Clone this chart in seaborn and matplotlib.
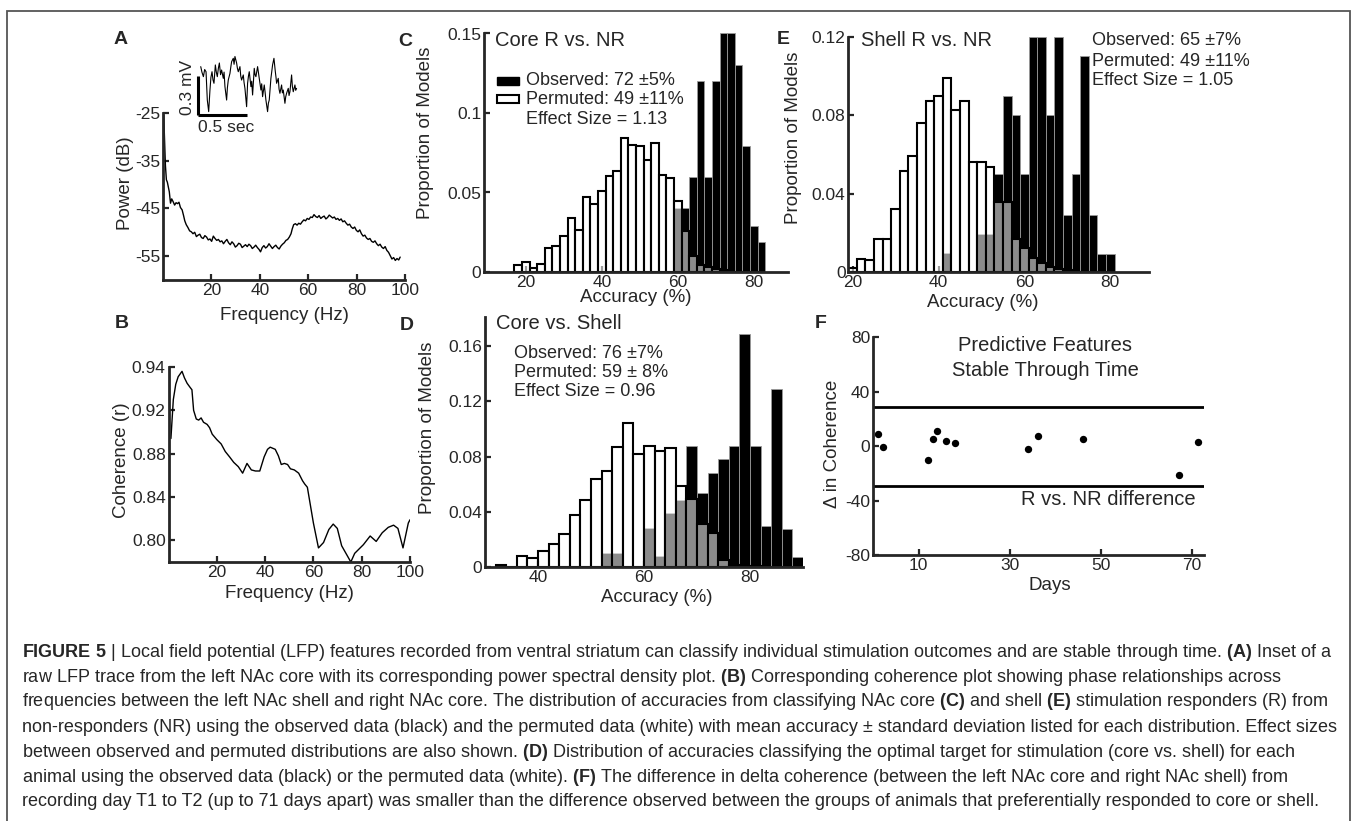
import matplotlib
matplotlib.use('Agg')
import matplotlib.pyplot as plt
from matplotlib.patches import Rectangle
from matplotlib import font_manager
import seaborn as sns

W, H = 1358, 821

# ---------------- data ----------------
# A: power spectral density
psd_freq = [0.3, 0.6, 1.0, 1.4, 1.8, 2.2, 2.6, 3.1, 3.6, 4.2, 4.8, 5.4, 6.0, 6.6, 7.2, 7.9,
            8.5, 9.0, 9.6, 10.3, 11.0, 11.7, 12.4, 13.1, 13.8, 14.5, 15.2, 15.9, 16.6, 17.3,
            18.0, 18.7, 19.4, 20.1, 20.8, 21.5, 22.2, 22.9, 23.6, 24.3, 25.0, 25.7, 26.4, 27.1,
            27.8, 28.5, 29.2, 29.9, 30.6, 31.3, 32.0, 32.7, 33.4, 34.1, 34.8, 35.5, 36.2, 36.9,
            37.6, 38.3, 39.0, 39.7, 40.3, 41.0, 41.7, 42.4, 43.1, 43.8, 44.5, 45.2, 45.9, 46.6,
            47.3, 48.0, 48.7, 49.4, 50.1, 50.8, 51.5, 52.2, 52.9, 53.4, 54.0, 54.7, 55.4, 56.1,
            56.8, 57.5, 58.2, 58.9, 59.6, 60.3, 61.0, 61.7, 62.4, 63.1, 63.8, 64.5, 65.2, 65.9,
            66.6, 67.3, 68.0, 68.7, 69.4, 70.1, 70.8, 71.5, 72.2, 72.9, 73.6, 74.3, 75.0, 75.7,
            76.4, 77.1, 77.8, 78.5, 79.2, 79.9, 80.6, 81.3, 82.0, 82.7, 83.4, 84.1, 84.8, 85.5,
            86.2, 86.9, 87.6, 88.3, 89.0, 89.7, 90.4, 91.1, 91.8, 92.5, 93.2, 93.9, 94.6, 95.3,
            96.0, 96.7, 97.4, 98.0]
psd_db = [-25.5, -30.0, -36.0, -39.0, -39.5, -40.5, -41.5, -43.9, -43.0, -43.6, -44.3, -43.8,
          -44.0, -43.7, -44.8, -45.3, -46.5, -47.6, -48.4, -49.0, -49.7, -49.9, -50.3, -50.0,
          -50.9, -50.6, -50.4, -51.1, -51.3, -50.7, -51.0, -51.6, -51.4, -51.9, -50.8, -51.3,
          -51.7, -51.5, -52.0, -51.8, -52.4, -51.9, -51.5, -52.2, -52.6, -52.0, -52.4, -53.1,
          -52.8, -52.3, -52.5, -53.2, -52.9, -52.6, -53.0, -52.5, -52.8, -53.4, -53.1, -52.7,
          -53.2, -53.6, -54.1, -53.2, -52.8, -53.3, -53.0, -52.4, -52.9, -53.4, -53.0, -52.7,
          -53.2, -53.5, -52.9, -52.5, -52.2, -51.7, -51.5, -51.0, -50.3, -49.3, -48.4, -48.2,
          -48.5, -48.1, -48.3, -47.8, -47.4, -47.6, -47.1, -47.3, -46.8, -46.9, -46.3, -46.7,
          -46.9, -46.5, -47.1, -46.8, -46.6, -47.2, -46.9, -46.4, -46.7, -47.0, -46.8, -47.3,
          -47.1, -47.5, -47.2, -47.8, -47.6, -48.1, -48.5, -48.3, -48.9, -49.2, -48.9, -49.6,
          -49.9, -49.5, -50.3, -50.8, -50.6, -51.2, -51.5, -51.3, -51.9, -52.1, -51.8, -52.4,
          -52.8, -52.5, -53.1, -53.4, -53.0, -53.8, -54.2, -54.9, -55.6, -55.3, -55.9, -55.5,
          -55.8, -55.2]

# A inset: raw LFP trace (sec, mV)
lfp_t = [0.028, 0.040, 0.055, 0.068, 0.082, 0.095, 0.109, 0.122, 0.132, 0.143, 0.153, 0.163,
         0.177, 0.187, 0.197, 0.208, 0.218, 0.230, 0.241, 0.258, 0.266, 0.275, 0.292, 0.300,
         0.309, 0.326, 0.335, 0.343, 0.360, 0.368, 0.377, 0.394, 0.402, 0.411, 0.428, 0.436,
         0.445, 0.462, 0.470, 0.479, 0.496, 0.506, 0.515, 0.523, 0.540, 0.548, 0.557, 0.574,
         0.582, 0.591, 0.608, 0.616, 0.625, 0.642, 0.650, 0.659, 0.676, 0.684, 0.693, 0.710,
         0.718, 0.727, 0.744, 0.752, 0.761, 0.775, 0.789, 0.796, 0.802, 0.819, 0.827, 0.836,
         0.853, 0.861, 0.870, 0.887, 0.895, 0.904, 0.921, 0.929, 0.938, 0.955, 0.963, 0.972,
         0.989, 0.997, 1.006]
lfp_mv = [0.372, 0.330, 0.295, 0.350, 0.333, 0.115, 0.026, 0.192, 0.290, 0.333, 0.270, 0.244,
          0.385, 0.330, 0.295, 0.360, 0.400, 0.310, 0.346, 0.282, 0.330, 0.218, 0.115, 0.210,
          0.269, 0.320, 0.370, 0.410, 0.436, 0.390, 0.450, 0.400, 0.360, 0.333, 0.372, 0.300,
          0.269, 0.308, 0.250, 0.205, 0.064, 0.244, 0.300, 0.333, 0.218, 0.260, 0.154, 0.359,
          0.310, 0.295, 0.372, 0.330, 0.282, 0.192, 0.240, 0.141, 0.231, 0.180, 0.115, 0.026,
          0.090, 0.115, 0.282, 0.330, 0.385, 0.436, 0.333, 0.290, 0.244, 0.282, 0.200, 0.167,
          0.231, 0.170, 0.192, 0.090, 0.140, 0.167, 0.205, 0.150, 0.179, 0.308, 0.220, 0.179,
          0.231, 0.190, 0.205]
scalebar_mv = 0.3
scalebar_s = 0.5

# B: coherence
coh_freq = [1.0, 2.0, 3.0, 4.0, 5.6, 6.6, 7.7, 9.0, 9.7, 10.4, 11.5, 12.5, 13.5, 14.5, 16.0,
            17.0, 18.1, 20.0, 21.8, 23.5, 25.3, 27.0, 28.9, 30.7, 32.5, 34.3, 36.0, 37.8, 39.6,
            41.0, 42.1, 44.2, 45.5, 46.7, 48.0, 49.3, 50.5, 52.1, 53.9, 55.5, 56.4, 57.5, 60.0,
            62.1, 64.2, 66.4, 68.2, 69.9, 71.7, 75.5, 77.1, 80.7, 83.5, 86.0, 88.5, 91.0, 93.2,
            95.0, 97.1, 99.3, 100.0]
coh_r = [0.894, 0.930, 0.944, 0.951, 0.956, 0.950, 0.945, 0.941, 0.939, 0.920, 0.912, 0.911,
         0.913, 0.909, 0.907, 0.904, 0.898, 0.893, 0.889, 0.882, 0.877, 0.872, 0.868, 0.862,
         0.871, 0.865, 0.864, 0.864, 0.877, 0.884, 0.886, 0.884, 0.878, 0.870, 0.871, 0.870,
         0.866, 0.865, 0.862, 0.855, 0.852, 0.849, 0.816, 0.793, 0.798, 0.810, 0.815, 0.811,
         0.795, 0.780, 0.788, 0.796, 0.804, 0.799, 0.807, 0.812, 0.814, 0.811, 0.793, 0.816,
         0.819]
coh_ticks = [0.80, 0.84, 0.88, 0.92, 0.96]
coh_ticklabels = ['0.80', '0.84', '0.88', '0.92', '0.94']

# C: core R vs NR (bin centres, proportion of models)
c_centers = [18, 20, 22, 24, 26, 28, 30, 32, 34, 36, 38, 40, 42, 44, 46, 48, 50, 52, 54, 56,
             58, 60, 62, 64, 66, 68, 70, 72, 74, 76, 78, 80, 82]
c_permuted = [0.0042, 0.0063, 0.0025, 0.0050, 0.0151, 0.0162, 0.0224, 0.0342, 0.0266, 0.0472,
              0.0428, 0.0512, 0.0606, 0.0634, 0.0843, 0.0797, 0.0793, 0.0707, 0.0812, 0.0610,
              0.0592, 0.0445, 0.0256, 0.0102, 0.0043, 0.0031, 0.0019, 0.0010, 0, 0, 0, 0, 0]
c_observed = [0, 0, 0, 0, 0, 0, 0, 0, 0, 0, 0, 0, 0, 0, 0, 0, 0, 0, 0, 0, 0,
              0.040, 0.040, 0.060, 0.120, 0.060, 0.120, 0.150, 0.150, 0.130, 0.079, 0.029, 0.019]

# D: core vs shell
d_centers = [33, 35, 37, 39, 41, 43, 45, 47, 49, 51, 53, 55, 57, 59, 61, 63, 65, 67, 69, 71,
             73, 75, 77, 79, 81, 83, 85, 87, 89]
d_permuted = [0.0017, 0, 0.0084, 0.0065, 0.0118, 0.0166, 0.0238, 0.0378, 0.0486, 0.0635,
              0.0695, 0.0871, 0.1044, 0.0816, 0.0875, 0.0839, 0.0865, 0.0590, 0.0492, 0.0315,
              0.0246, 0.0055, 0.0014, 0.0010, 0.0008, 0, 0, 0, 0]
d_observed = [0, 0, 0, 0, 0, 0, 0, 0, 0, 0, 0.0101, 0.0101, 0, 0, 0.0286, 0.0085, 0.0390,
              0.0490, 0.0875, 0.0539, 0.0684, 0.0780, 0.0875, 0.1688, 0.0875, 0.0300, 0.1286,
              0.0274, 0.0074]

# E: shell R vs NR
e_centers = [20, 22, 24, 26, 28, 30, 32, 34, 36, 38, 40, 42, 44, 46, 48, 50, 52, 54, 56, 58,
             60, 62, 64, 66, 68, 70, 72, 74, 76, 78, 80]
e_permuted = [0.0020, 0.0068, 0.0063, 0.0170, 0.0170, 0.0322, 0.0513, 0.0592, 0.0762, 0.0874,
              0.0900, 0.0988, 0.0826, 0.0874, 0.0560, 0.0560, 0.0533, 0.0355, 0.0355, 0.0170,
              0.0122, 0.0070, 0.0045, 0.0025, 0.0015, 0.0010, 0, 0, 0, 0, 0]
e_observed = [0, 0, 0, 0, 0, 0, 0, 0, 0, 0, 0, 0.0097, 0, 0, 0, 0.0195, 0.0195, 0.050, 0.090,
              0.080, 0.050, 0.120, 0.120, 0.080, 0.120, 0.029, 0.050, 0.110, 0.029, 0.0093,
              0.0093]

# F: delta coherence through time
f_days = [1.0, 2.1, 12.0, 13.1, 14.0, 16.0, 18.1, 34.0, 36.2, 46.1, 67.3, 71.5]
f_delta = [8.7, -0.5, -10.3, 5.0, 11.5, 4.2, 2.3, -1.9, 7.3, 5.3, -20.8, 3.2]
f_bounds = [29, -29]

caption_lines = [
    r"$\mathbf{FIGURE\ 5}$ | Local field potential (LFP) features recorded from ventral striatum can classify individual stimulation outcomes and are stable through time. $\mathbf{(A)}$ Inset of a",
    r"raw LFP trace from the left NAc core with its corresponding power spectral density plot. $\mathbf{(B)}$ Corresponding coherence plot showing phase relationships across",
    r"frequencies between the left NAc shell and right NAc core. The distribution of accuracies from classifying NAc core $\mathbf{(C)}$ and shell $\mathbf{(E)}$ stimulation responders (R) from",
    r"non-responders (NR) using the observed data (black) and the permuted data (white) with mean accuracy ± standard deviation listed for each distribution. Effect sizes",
    r"between observed and permuted distributions are also shown. $\mathbf{(D)}$ Distribution of accuracies classifying the optimal target for stimulation (core vs. shell) for each",
    r"animal using the observed data (black) or the permuted data (white). $\mathbf{(F)}$ The difference in delta coherence (between the left NAc core and right NAc shell) from",
    r"recording day T1 to T2 (up to 71 days apart) was smaller than the difference observed between the groups of animals that preferentially responded to core or shell.",
]

# ---------------- style ----------------
sns.set_style('ticks')
plt.rcParams['font.family'] = ['Liberation Sans', 'DejaVu Sans']
plt.rcParams['mathtext.fontset'] = 'custom'
plt.rcParams['mathtext.rm'] = 'Liberation Sans'
plt.rcParams['mathtext.bf'] = 'Liberation Sans:bold'
plt.rcParams['axes.unicode_minus'] = False
plt.rcParams['axes.linewidth'] = 2.0
plt.rcParams['xtick.direction'] = 'in'
plt.rcParams['ytick.direction'] = 'in'
plt.rcParams['xtick.major.width'] = 1.6
plt.rcParams['ytick.major.width'] = 1.6
plt.rcParams['xtick.major.size'] = 4
plt.rcParams['ytick.major.size'] = 4
plt.rcParams['xtick.labelsize'] = 12.5
plt.rcParams['ytick.labelsize'] = 12.5
plt.rcParams['axes.labelsize'] = 13.5

narrow = any(f.name == 'Liberation Sans Narrow' for f in font_manager.fontManager.ttflist)
cap_family = ['Liberation Sans Narrow', 'Liberation Sans'] if narrow else ['Liberation Sans']


def fx(x):
    return x / W


def fy(y):
    return 1 - y / H


def add_ax(left, right, top, bottom):
    return fig.add_axes([fx(left), fy(bottom), (right - left) / W, (bottom - top) / H])


def place_labels(ax, xl, yl):
    ax.xaxis.set_label_coords(fx(xl[0]), fy(xl[1]), transform=fig.transFigure)
    ax.xaxis.label.set_va('center')
    ax.yaxis.set_label_coords(fx(yl[0]), fy(yl[1]), transform=fig.transFigure)
    ax.yaxis.label.set_va('center')


def hist_panel(ax, centers, observed, permuted):
    edges = [c - 1 for c in centers] + [centers[-1] + 1]
    sns.histplot(x=centers, weights=observed, bins=edges, stat='count', ax=ax,
                 facecolor='black', edgecolor='#9a9a9a', linewidth=0.6)
    sns.histplot(x=centers, weights=permuted, bins=edges, stat='count', ax=ax,
                 facecolor=(1, 1, 1, 0.55), edgecolor='black', linewidth=1.5)


fig = plt.figure(figsize=(W / 100, H / 100), dpi=100)

# ---- A ----
axA = add_ax(163, 405, 113, 280)
sns.lineplot(x=psd_freq, y=psd_db, ax=axA, color='black', linewidth=1.0,
             estimator=None, sort=False)
axA.set_xlim(0, 100)
axA.set_ylim(-60, -25)
axA.set_xticks([20, 40, 60, 80, 100])
axA.set_yticks([-55, -45, -35, -25])
axA.set_xlabel('Frequency (Hz)')
axA.set_ylabel('Power (dB)')
place_labels(axA, (284, 315), (125, 183))

axIn = add_ax(190, 300, 50, 120)
sns.lineplot(x=lfp_t, y=lfp_mv, ax=axIn, color='black', linewidth=0.8,
             estimator=None, sort=False)
axIn.plot([0, 0], [0, scalebar_mv], color='black', lw=2.2, solid_capstyle='butt')
axIn.plot([0, scalebar_s], [0, 0], color='black', lw=2.2, solid_capstyle='butt')
axIn.set_xlim(-0.0816, 1.0408)
axIn.set_ylim(-0.0385, 0.5)
axIn.axis('off')
fig.text(fx(188), fy(87), '0.3 mV', rotation=90, ha='center', va='center', fontsize=12.5)
fig.text(fx(226), fy(128), '0.5 sec', ha='center', va='center', fontsize=12.5)

# ---- B ----
axB = add_ax(168.5, 410, 367, 562)
sns.lineplot(x=coh_freq, y=coh_r, ax=axB, color='black', linewidth=1.0,
             estimator=None, sort=False)
axB.set_xlim(0, 100)
axB.set_ylim(0.78, 0.96)
axB.set_xticks([20, 40, 60, 80, 100])
axB.set_yticks(coh_ticks)
axB.set_yticklabels(coh_ticklabels)
axB.set_xlabel('Frequency (Hz)')
axB.set_ylabel('Coherence (r)')
place_labels(axB, (289, 593), (121, 460))

# ---- C ----
axC = add_ax(484, 788, 33.5, 272)
hist_panel(axC, c_centers, c_observed, c_permuted)
axC.set_xlim(9, 89)
axC.set_ylim(0, 0.15)
axC.set_xticks([20, 40, 60, 80])
axC.set_yticks([0, 0.05, 0.1, 0.15])
axC.set_yticklabels(['0', '0.05', '0.1', '0.15'])
axC.set_xlabel('Accuracy (%)')
axC.set_ylabel('Proportion of Models')
place_labels(axC, (636, 298), (425, 133))

# ---- D ----
axD = add_ax(485, 803, 317, 567.3)
hist_panel(axD, d_centers, d_observed, d_permuted)
axD.set_xlim(30, 90)
axD.set_ylim(0, 0.181)
axD.set_xticks([40, 60, 80])
axD.set_yticks([0, 0.04, 0.08, 0.12, 0.16])
axD.set_yticklabels(['0', '0.04', '0.08', '0.12', '0.16'])
axD.set_xlabel('Accuracy (%)')
axD.set_ylabel('Proportion of Models')
place_labels(axD, (657, 597), (427, 428))

# ---- E ----
axE = add_ax(848.3, 1149, 36.7, 272)
hist_panel(axE, e_centers, e_observed, e_permuted)
axE.set_xlim(19, 89)
axE.set_ylim(0, 0.12)
axE.set_xticks([20, 40, 60, 80])
axE.set_yticks([0, 0.04, 0.08, 0.12])
axE.set_yticklabels(['0', '0.04', '0.08', '0.12'])
axE.set_xlabel('Accuracy (%)')
axE.set_ylabel('Proportion of Models')
place_labels(axE, (983, 302), (793, 138))

# ---- F ----
axF = add_ax(873, 1203.5, 337.4, 555.2)
sns.scatterplot(x=f_days, y=f_delta, ax=axF, color='black', s=28, linewidth=0)
for b in f_bounds:
    axF.axhline(b, color='black', lw=2.0)
axF.set_xlim(0, 72.6)
axF.set_ylim(-80, 80)
axF.set_xticks([10, 30, 50, 70])
axF.set_yticks([-80, -40, 0, 40, 80])
axF.set_xlabel('Days')
axF.set_ylabel('Δ in Coherence')
place_labels(axF, (1050, 586), (832, 444))

for ax in [axA, axB, axC, axD, axE, axF]:
    sns.despine(ax=ax)
    ax.tick_params(pad=2)

# ---- panel texts ----
tkw = dict(fontsize=14.5, va='center')
fig.text(fx(495), fy(40.7), 'Core R vs. NR', **tkw)
fig.text(fx(860.7), fy(40.5), 'Shell R vs. NR', **tkw)
fig.text(fx(495.7), fy(323.3), 'Core vs. Shell', **tkw)

akw = dict(fontsize=13, va='center')
fig.add_artist(Rectangle((fx(497), fy(85)), 22 / W, 8.3 / H, transform=fig.transFigure,
                         facecolor='black', edgecolor='black', lw=1.0))
fig.add_artist(Rectangle((fx(497), fy(103.3)), 22 / W, 8.3 / H, transform=fig.transFigure,
                         facecolor='white', edgecolor='black', lw=1.5))
fig.text(fx(526), fy(80.7), 'Observed: 72 ±5%', **akw)
fig.text(fx(526), fy(100), 'Permuted: 49 ±11%', **akw)
fig.text(fx(526), fy(119.3), 'Effect Size = 1.13', **akw)

fig.text(fx(1092), fy(40.8), 'Observed: 65 ±7%', **akw)
fig.text(fx(1092), fy(61.7), 'Permuted: 49 ±11%', **akw)
fig.text(fx(1092), fy(80.6), 'Effect Size = 1.05', **akw)

fig.text(fx(514), fy(353.3), 'Observed: 76 ±7%', **akw)
fig.text(fx(514), fy(372.3), 'Permuted: 59 ± 8%', **akw)
fig.text(fx(514), fy(391), 'Effect Size = 0.96', **akw)

fig.text(fx(1045.5), fy(345), 'Predictive Features', ha='center', **tkw)
fig.text(fx(1045.5), fy(370.4), 'Stable Through Time', ha='center', **tkw)
fig.text(fx(1021), fy(499), 'R vs. NR difference', **tkw)

lkw = dict(fontsize=14, fontweight='bold', ha='center', va='center')
for letter, (x, y) in {'A': (121, 40), 'B': (121.5, 323), 'C': (405.5, 41.5),
                       'D': (407, 325), 'E': (783, 40), 'F': (821, 323.5)}.items():
    fig.text(fx(x), fy(y), letter, **lkw)

# ---- frame ----
fig.add_artist(Rectangle((fx(7), -0.05), (1350 - 7) / W, fy(11) + 0.05,
                         transform=fig.transFigure, fill=False, edgecolor='#555555', lw=1.3))

# ---- caption ----
cap_y = [652, 677, 702, 727, 752, 777, 801]
cap_texts = [fig.text(fx(22), fy(y), line, fontsize=12, va='center', family=cap_family)
             for y, line in zip(cap_y, caption_lines)]
fig.canvas.draw()
r = fig.canvas.get_renderer()
scale = (1338 - 22) / cap_texts[3].get_window_extent(r).width
for t in cap_texts:
    t.set_fontsize(12 * scale)

fig.savefig('out.png', dpi=100)
